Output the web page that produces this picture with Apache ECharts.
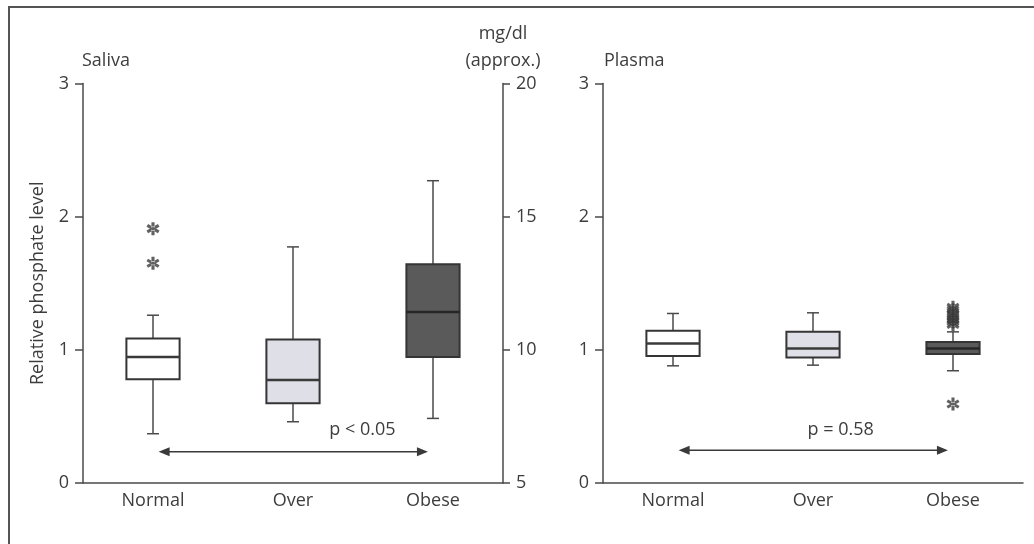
<!DOCTYPE html>
<html>
<head>
<meta charset="utf-8">
<title>Phosphate level</title>
<script src="https://cdn.jsdelivr.net/npm/echarts@6/dist/echarts.min.js"></script>
<style>
  html, body { margin: 0; padding: 0; background: #fff; }
  #chart { width: 1034px; height: 544px; }
</style>
</head>
<body>
<div id="chart"></div>
<script>
// ---- data ----
var categories = ['Normal', 'Over', 'Obese'];
// [category index, lower whisker, Q1, median, Q3, upper whisker]
var salivaBoxes = [
    [0, 0.37, 0.78, 0.947, 1.085, 1.26],
    [1, 0.46, 0.598, 0.773, 1.078, 1.773],
    [2, 0.485, 0.947, 1.285, 1.643, 2.27]
];
var plasmaBoxes = [
    [0, 0.88, 0.953, 1.048, 1.1425, 1.273],
    [1, 0.885, 0.943, 1.01, 1.135, 1.278],
    [2, 0.843, 0.968, 1.01, 1.058, 1.135]
];
var salivaOutliers = [[0, 1.91], [0, 1.65]];
var plasmaOutliers = [[2, 1.19], [2, 1.21], [2, 1.23], [2, 1.25], [2, 1.27], [2, 1.30], [2, 1.32], [2, 0.593]];
var relTicks = [0, 1, 2, 3];
var mgTicks = [5, 10, 15, 20];
// comparison arrows: [from, to, y, label x, label y]
var salivaCompare = [[0.04, 1.964, 0.235, 1.496, 0.40]];
var plasmaCompare = [[0.04, 1.964, 0.245, 1.198, 0.40]];
var compareText = ['p < 0.05', 'p = 0.58'];

// ---- styles ----
var FONT = '"Open Sans", "Noto Sans", sans-serif';
var TXT = '#3d3d3d';
var LINE = '#4a4a4a';
var boxFill = ['#ffffff', '#dedfe7', '#5a5a5a'];
var medianColor = ['#3a3a3a', '#3a3a3a', '#262626'];

function renderBox(params, api) {
    var idx = api.value(0);
    var x = api.coord([idx, 0])[0];
    var yLow = api.coord([idx, api.value(1)])[1];
    var yQ1 = api.coord([idx, api.value(2)])[1];
    var yMed = api.coord([idx, api.value(3)])[1];
    var yQ3 = api.coord([idx, api.value(4)])[1];
    var yHigh = api.coord([idx, api.value(5)])[1];
    var w = api.size([1, 0])[0] * 0.38;
    var cap = 12;
    var ls = { stroke: LINE, lineWidth: 1.5 };
    return {
        type: 'group',
        children: [
            { type: 'line', shape: { x1: x, y1: yHigh, x2: x, y2: yQ3 }, style: ls },
            { type: 'line', shape: { x1: x, y1: yLow, x2: x, y2: yQ1 }, style: ls },
            { type: 'line', shape: { x1: x - cap / 2, y1: yHigh, x2: x + cap / 2, y2: yHigh }, style: ls },
            { type: 'line', shape: { x1: x - cap / 2, y1: yLow, x2: x + cap / 2, y2: yLow }, style: ls },
            { type: 'rect', shape: { x: x - w / 2, y: yQ3, width: w, height: yQ1 - yQ3 },
              style: { fill: boxFill[idx], stroke: '#353535', lineWidth: 2 } },
            { type: 'line', shape: { x1: x - w / 2, y1: yMed, x2: x + w / 2, y2: yMed },
              style: { stroke: medianColor[idx], lineWidth: 2.5 } }
        ]
    };
}

function renderArrow(textIdx) {
    return function (params, api) {
        var a = api.coord([api.value(0), api.value(2)]);
        var b = api.coord([api.value(1), api.value(2)]);
        var t = api.coord([api.value(3), api.value(4)]);
        var hl = 11, hw = 4.5;
        var col = '#3a3a3a';
        return {
            type: 'group',
            children: [
                { type: 'line', shape: { x1: a[0] + 4, y1: a[1], x2: b[0] - 4, y2: b[1] },
                  style: { stroke: col, lineWidth: 1.5 } },
                { type: 'polygon', shape: { points: [[a[0], a[1]], [a[0] + hl, a[1] - hw], [a[0] + hl, a[1] + hw]] },
                  style: { fill: col } },
                { type: 'polygon', shape: { points: [[b[0], b[1]], [b[0] - hl, b[1] - hw], [b[0] - hl, b[1] + hw]] },
                  style: { fill: col } },
                { type: 'text', x: t[0], y: t[1],
                  style: { text: compareText[textIdx], fill: TXT, font: '18px ' + FONT,
                           align: 'center', verticalAlign: 'middle' } }
            ]
        };
    };
}

// asterisk made of three bars
var STAR = 'path://M-1.4,-6L1.4,-6L1.4,6L-1.4,6Z' +
    'M4.496,4.212L5.896,1.788L-4.496,-4.212L-5.896,-1.788Z' +
    'M-5.896,1.788L-4.496,4.212L5.896,-1.788L4.496,-4.212Z';

function catAxis(gridIndex) {
    return {
        type: 'category', gridIndex: gridIndex, data: categories,
        axisLine: { lineStyle: { color: LINE, width: 1.5 } },
        axisTick: { alignWithLabel: true, length: 8, lineStyle: { color: LINE, width: 1.5 } },
        axisLabel: { color: TXT, fontSize: 18, fontFamily: FONT, margin: 9 },
        splitLine: { show: false }
    };
}
function relAxis(gridIndex, name) {
    return {
        type: 'value', gridIndex: gridIndex, min: relTicks[0], max: relTicks[relTicks.length - 1], interval: 1,
        name: name, nameLocation: 'middle', nameGap: 36,
        nameTextStyle: { color: TXT, fontSize: 18, fontFamily: FONT },
        axisLine: { show: true, onZero: false, lineStyle: { color: LINE, width: 1.5 } },
        axisTick: { show: true, length: 8, lineStyle: { color: LINE, width: 1.5 } },
        axisLabel: { color: TXT, fontSize: 18, fontFamily: FONT, margin: 14 },
        splitLine: { show: false }
    };
}
function hiddenX(gridIndex) {
    return { type: 'value', gridIndex: gridIndex, min: -0.5, max: 2.5, show: false };
}

var chart = echarts.init(document.getElementById('chart'));
chart.setOption({
    animation: false,
    backgroundColor: '#fff',
    textStyle: { fontFamily: FONT },
    title: [
        { text: 'Saliva', left: 82, top: 52, padding: 0,
          textStyle: { color: TXT, fontSize: 18, fontWeight: 'normal', fontFamily: FONT } },
        { text: 'Plasma', left: 604, top: 52, padding: 0,
          textStyle: { color: TXT, fontSize: 18, fontWeight: 'normal', fontFamily: FONT } }
    ],
    graphic: [{
        type: 'polyline', silent: true,
        shape: { points: [[9, 544], [9, 7], [1034, 7]] },
        style: { stroke: '#555', lineWidth: 2, fill: null }
    }],
    grid: [
        { left: 83, right: 531, top: 83.5, bottom: 61 },
        { left: 603, right: 11, top: 83.5, bottom: 61 }
    ],
    xAxis: [catAxis(0), catAxis(1), hiddenX(0), hiddenX(1)],
    yAxis: [
        relAxis(0, 'Relative phosphate level'),
        relAxis(1, ''),
        {
            type: 'value', gridIndex: 0, position: 'right',
            min: mgTicks[0], max: mgTicks[mgTicks.length - 1], interval: 5,
            name: 'mg/dl\n(approx.)', nameLocation: 'end', nameGap: 8,
            nameTextStyle: { color: TXT, fontSize: 18, fontFamily: FONT, align: 'center', lineHeight: 27 },
            axisLine: { show: true, onZero: false, lineStyle: { color: LINE, width: 1.5 } },
            axisTick: { show: true, length: 7, lineStyle: { color: LINE, width: 1.5 } },
            axisLabel: { color: TXT, fontSize: 18, fontFamily: FONT, margin: 13 },
            splitLine: { show: false }
        }
    ],
    series: [
        { type: 'custom', xAxisIndex: 0, yAxisIndex: 0, data: salivaBoxes, renderItem: renderBox,
          encode: { x: 0, y: [1, 2, 3, 4, 5] } },
        { type: 'custom', xAxisIndex: 1, yAxisIndex: 1, data: plasmaBoxes, renderItem: renderBox,
          encode: { x: 0, y: [1, 2, 3, 4, 5] } },
        { type: 'scatter', xAxisIndex: 0, yAxisIndex: 0, data: salivaOutliers,
          symbol: STAR, symbolSize: 13, itemStyle: { color: '#3a3a3a' } },
        { type: 'scatter', xAxisIndex: 1, yAxisIndex: 1, data: plasmaOutliers,
          symbol: STAR, symbolSize: 13, itemStyle: { color: '#3a3a3a' } },
        { type: 'custom', xAxisIndex: 2, yAxisIndex: 0, data: salivaCompare, renderItem: renderArrow(0),
          encode: { x: [0, 1, 3], y: [2, 4] } },
        { type: 'custom', xAxisIndex: 3, yAxisIndex: 1, data: plasmaCompare, renderItem: renderArrow(1),
          encode: { x: [0, 1, 3], y: [2, 4] } }
    ]
});
</script>
</body>
</html>
